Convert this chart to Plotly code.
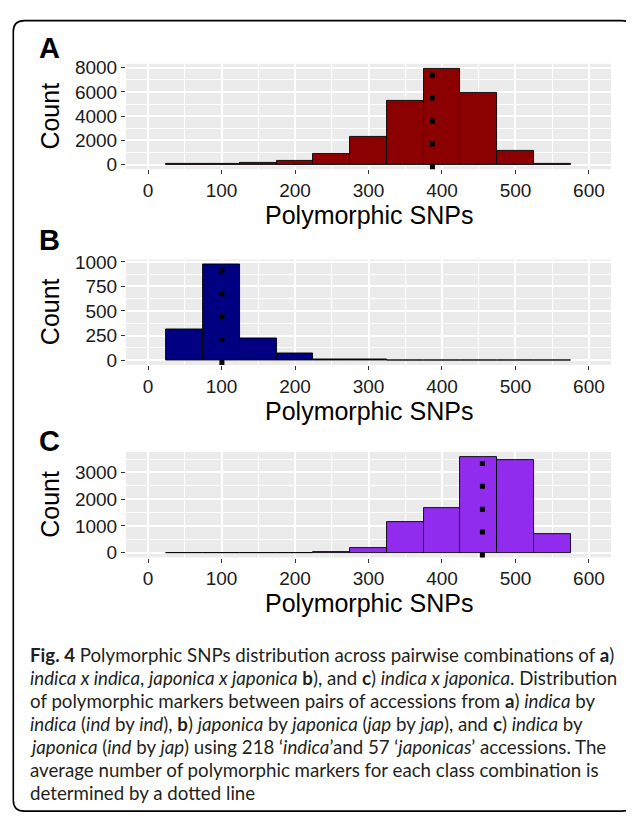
import plotly.graph_objects as go

# ---------------- data ----------------
bin_centers = [50, 100, 150, 200, 250, 300, 350, 400, 450, 500, 550]
bin_width = 50
counts_A = [20, 50, 130, 300, 880, 2250, 5230, 7930, 5910, 1100, 30]
counts_B = [310, 976, 220, 63, 6, 2, 1, 1, 1, 1, 1]
counts_C = [1, 1, 1, 2, 10, 160, 1136, 1680, 3580, 3447, 700]
means = [387, 100.5, 455]
panel_labels = ["A", "B", "C"]
bar_colors = ["#8B0000", "#000080", "#912CEE"]
x_ticks = [0, 100, 200, 300, 400, 500, 600]
y_ticks_A = [0, 2000, 4000, 6000, 8000]
y_ticks_B = [0, 250, 500, 750, 1000]
y_ticks_C = [0, 1000, 2000, 3000]
y_minor = [1000, 125, 500]
x_title = "Polymorphic SNPs"
y_title = "Count"
caption_lines = [
    "<b>Fig. 4</b> Polymorphic SNPs distribution across pairwise combinations of <b>a</b>)",
    "<i>indica x indica</i>, <i>japonica x japonica</i> <b>b</b>), and <b>c</b>) <i>indica x japonica</i>. Distribution",
    "of polymorphic markers between pairs of accessions from <b>a</b>) <i>indica</i> by",
    "<i>indica</i> (<i>ind</i> by <i>ind</i>), <b>b</b>) <i>japonica</i> by <i>japonica</i> (<i>jap</i> by <i>jap</i>), and <b>c</b>) <i>indica</i> by",
    "<i>japonica</i> (<i>ind</i> by <i>jap</i>) using 218 \u2018<i>indica</i>\u2019and 57 \u2018<i>japonicas</i>\u2019 accessions. The",
    "average number of polymorphic markers for each class combination is",
    "determined by a dotted line",
]

counts = [counts_A, counts_B, counts_C]
y_ticks = [y_ticks_A, y_ticks_B, y_ticks_C]

# ---------------- layout geometry (page pixels) ----------------
PAGE_W, PAGE_H = 634, 822
BODY_MARGIN = 8          # default body margin of the html page
W, H = PAGE_W - BODY_MARGIN, PAGE_H - BODY_MARGIN

def px(x):
    return (x - BODY_MARGIN) / W
def py(y):
    return 1 - (y - BODY_MARGIN) / H

plot_x0, plot_x1 = 126, 611
panel_tops = [56.7, 255.7, 451.7]
panel_h = 107.3
letter_y = [41, 236, 440]
title_gap = 46.6

fig = go.Figure()
annotations = []
shapes = []
AX = "Liberation Sans, Arial, sans-serif"

for i in range(3):
    n = "" if i == 0 else str(i + 1)
    xa, ya = "x" + n, "y" + n
    fig.add_trace(go.Bar(
        x=bin_centers, y=counts[i], width=bin_width,
        marker=dict(color=bar_colors[i], line=dict(color="black", width=0.9)),
        xaxis=xa, yaxis=ya, showlegend=False, hoverinfo="x+y",
    ))
    top = panel_tops[i]
    bot = top + panel_h
    m = max(counts[i])
    fig.update_layout(**{
        "xaxis" + n: dict(
            domain=[px(plot_x0), px(plot_x1)], anchor=ya, range=[-30, 630],
            tickmode="array", tickvals=x_ticks, ticktext=[str(v) for v in x_ticks],
            ticks="outside", ticklen=4, tickwidth=1, tickcolor="#333333",
            tickfont=dict(family=AX, size=19, color="#1a1a1a"),
            showgrid=True, gridcolor="white", gridwidth=1.5,
            minor=dict(dtick=50, tick0=0, showgrid=True, gridcolor="white", gridwidth=0.7),
            zeroline=False, showline=False, fixedrange=True,
        ),
        "yaxis" + n: dict(
            domain=[py(bot), py(top)], anchor=xa, range=[-0.05 * m, 1.05 * m],
            tickmode="array", tickvals=y_ticks[i], ticktext=[str(v) for v in y_ticks[i]],
            ticks="outside", ticklen=4, tickwidth=1, tickcolor="#333333",
            tickfont=dict(family=AX, size=19, color="#1a1a1a"),
            showgrid=True, gridcolor="white", gridwidth=1.5,
            minor=dict(dtick=y_minor[i], tick0=0, showgrid=True, gridcolor="white", gridwidth=0.7),
            zeroline=False, showline=False, fixedrange=True,
        ),
    })
    # panel background
    shapes.append(dict(type="rect", xref=xa + " domain", yref=ya + " domain",
                       x0=0, x1=1, y0=0, y1=1, fillcolor="#EBEBEB",
                       line=dict(width=0), layer="below"))
    # mean dotted line
    shapes.append(dict(type="line", xref=xa, yref=ya + " domain",
                       x0=means[i], x1=means[i], y0=0, y1=1,
                       line=dict(color="black", width=5, dash="5px,17.9px"),
                       layer="above"))
    annotations.append(dict(text="<b>%s</b>" % panel_labels[i], xref="paper", yref="paper",
                            x=px(49), y=py(letter_y[i]), xanchor="center", yanchor="middle",
                            showarrow=False, font=dict(family=AX, size=29, color="black")))
    annotations.append(dict(text=y_title, xref="paper", yref="paper",
                            x=px(50), y=py(top + panel_h / 2), xanchor="center", yanchor="middle",
                            textangle=-90, showarrow=False,
                            font=dict(family=AX, size=25, color="black")))
    annotations.append(dict(text=x_title, xref="paper", yref="paper",
                            x=px((plot_x0 + plot_x1) / 2), y=py(bot + title_gap),
                            xanchor="center", yanchor="middle", showarrow=False,
                            font=dict(family=AX, size=25, color="black")))

# caption
cap_y0 = 658
cap_dy = 23.4
for k, line in enumerate(caption_lines):
    annotations.append(dict(text=line, xref="paper", yref="paper",
                            x=px(28), y=py(cap_y0 + k * cap_dy), xanchor="left", yanchor="middle",
                            align="left", showarrow=False,
                            font=dict(family="Lato, Open Sans, sans-serif", size=18.7, color="#231f20")))

# rounded border
L, T, R, B, r = px(13.3), py(12.7), px(633), py(817), 11
rx, ry = r / W, r / H
path = ("M {l},{t1} Q {l},{t} {l1},{t} L {r1},{t} Q {R},{t} {R},{t1} "
        "L {R},{b1} Q {R},{b} {r1},{b} L {l1},{b} Q {l},{b} {l},{b1} Z").format(
    l=L, t=T, R=R, b=B, t1=T - ry, l1=L + rx, r1=R - rx, b1=B + ry)
shapes.append(dict(type="path", xref="paper", yref="paper", path=path,
                   line=dict(color="black", width=1.6), fillcolor="rgba(0,0,0,0)", layer="above"))

fig.update_layout(
    width=W, height=H, margin=dict(l=0, r=0, t=0, b=0),
    paper_bgcolor="white", plot_bgcolor="rgba(0,0,0,0)",
    bargap=0, annotations=annotations, shapes=shapes, showlegend=False,
)

fig.write_html("out.html", config={"displayModeBar": False})
